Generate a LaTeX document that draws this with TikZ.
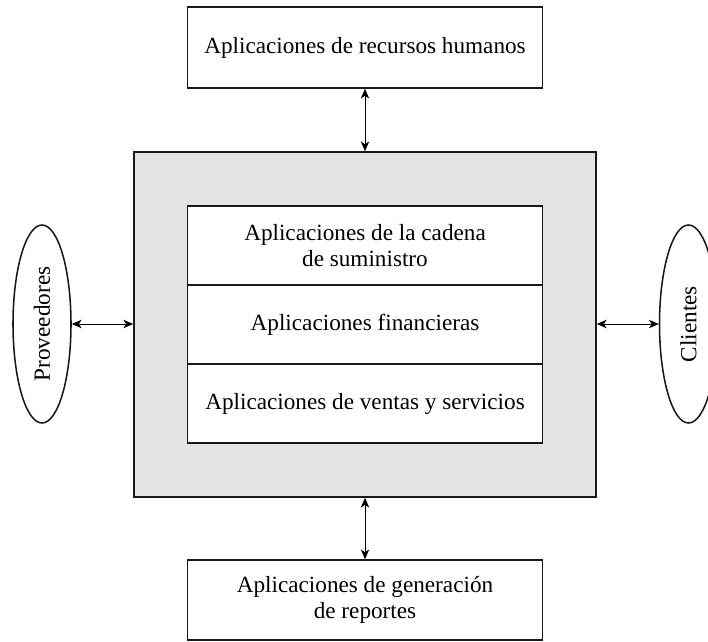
\documentclass[tikz,border=0pt]{standalone}
\usepackage{fontspec}
\setmainfont{Liberation Serif}
\usepackage{tikz}
\usetikzlibrary{shapes,arrows,arrows.meta,positioning}

\begin{document}
\begin{tikzpicture}[
    box/.style={rectangle, draw=black!90, line width=1.1pt, fill=white, minimum width=8.875cm, minimum height=2cm, align=center, font=\fontsize{16.5}{18}\selectfont, inner sep=0pt},
    row/.style={box, minimum height=1.975cm},
    core/.style={rectangle, draw=black!90, line width=1.1pt, fill=black!11, minimum width=11.55cm, minimum height=8.625cm},
    party/.style={ellipse, draw=black!90, line width=1.1pt, minimum width=1.45cm, minimum height=4.95cm, inner sep=0pt, font=\fontsize{16.5}{18}\selectfont},
    arrow/.style={<->, line width=0.7pt, >={Stealth[length=7pt,width=6pt,inset=2pt]}},
]
    \useasboundingbox (0,0) rectangle (17.7,-16.025);

    % Nodes
    \node[box, minimum height=2.025cm] (rrhh) at (9.125,-1.1875) {Aplicaciones de recursos humanos};
    \node[core] (erp) at (9.125,-8.1125) {};
    \node[row] (cadena) at (9.125,-6.1375) {Aplicaciones de la cadena\\de suministro};
    \node[row] (finanzas) at (9.125,-8.1125) {Aplicaciones financieras};
    \node[row] (ventas) at (9.125,-10.0875) {Aplicaciones de ventas y servicios};
    \node[box] (reportes) at (9.125,-15.0) {Aplicaciones de generación\\de reportes};
    \node[party] (prov) at (1.05,-8.1) {\rotatebox{90}{Proveedores}};
    \node[party] (clientes) at (17.2125,-8.1) {\rotatebox{90}{Clientes}};

    % Arrows
    \draw[arrow] (rrhh) -- (erp);
    \draw[arrow] (erp) -- (reportes);
    \draw[arrow] (prov) -- (prov -| erp.west);
    \draw[arrow] (erp.east |- clientes) -- (clientes);
\end{tikzpicture}
\end{document}
